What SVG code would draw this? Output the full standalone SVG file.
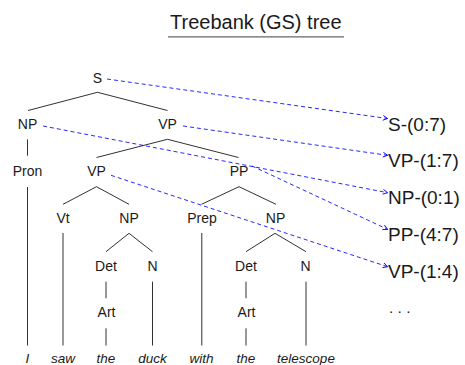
<svg xmlns="http://www.w3.org/2000/svg" width="465" height="365" viewBox="0 0 465 365">
<defs>
<style>
text{font-family:"Liberation Sans",Arial,sans-serif;fill:#1a1a1a}
.t{font-size:20px}
.n{font-size:14px;text-anchor:middle}
.w{font-size:13.5px;text-anchor:middle;font-style:italic}
.r{font-size:19px}
.d{font-size:15.5px}
.e{stroke:#1a1a1a;stroke-width:0.9;fill:none}
.a{stroke:#0000ff;stroke-width:0.85;fill:none;stroke-dasharray:4 3;marker-end:url(#ah)}
</style>
<marker id="ah" viewBox="0 0 6 6" refX="5.5" refY="3" markerWidth="6" markerHeight="6" markerUnits="userSpaceOnUse" orient="auto">
<path d="M1,0.6 L5.5,3 L1,5.4" fill="none" stroke="#0000ff" stroke-width="0.9"/>
</marker>
</defs>
<g id="title">
<text class="t" x="170" y="28.5">Treebank (GS) tree</text>
<line x1="168" y1="36.8" x2="344" y2="36.8" stroke="#666" stroke-width="1.3"/>
</g>
<g id="connectors">
<polyline class="e" points="28,110.5 97.5,92.3 167.5,110.5"/>
<polyline class="e" points="96.5,157.5 167.5,139.3 238.5,157.5"/>
<line class="e" x1="27.5" y1="139.3" x2="27.5" y2="155.7"/>
<line class="e" x1="27.5" y1="187" x2="27.5" y2="345.5"/>
<polyline class="e" points="63,204.3 96.5,186.7 129,204.3"/>
<polyline class="e" points="201.5,204.3 239,186.7 276,204.3"/>
<line class="e" x1="63" y1="233" x2="63" y2="345.5"/>
<line class="e" x1="201.8" y1="233" x2="201.8" y2="345.5"/>
<polyline class="e" points="106,251.7 129,233.3 152.5,251.7"/>
<polyline class="e" points="246,251.7 275,233.3 306,251.7"/>
<line class="e" x1="106" y1="281.7" x2="106" y2="298.3"/>
<line class="e" x1="106" y1="328.3" x2="106" y2="345.5"/>
<line class="e" x1="152.5" y1="281.7" x2="152.5" y2="345.5"/>
<line class="e" x1="246" y1="281.7" x2="246" y2="298.3"/>
<line class="e" x1="246" y1="328.3" x2="246" y2="345.5"/>
<line class="e" x1="306" y1="281.7" x2="306" y2="345.5"/>
<line class="a" x1="107" y1="79" x2="387.5" y2="118.5"/>
<line class="a" x1="183" y1="126" x2="387.5" y2="155.3"/>
<line class="a" x1="43" y1="126" x2="387.5" y2="192.7"/>
<line class="a" x1="252" y1="166" x2="387.5" y2="229.3"/>
<line class="a" x1="111" y1="175.3" x2="387.5" y2="266.7"/>
</g>
<g id="n-S"><text class="n" x="97.5" y="83">S</text></g>
<g id="n-NP1"><text class="n" x="27.5" y="129">NP</text></g>
<g id="n-VP1"><text class="n" x="167.5" y="129">VP</text></g>
<g id="n-Pron"><text class="n" x="27.5" y="176">Pron</text></g>
<g id="n-VP2"><text class="n" x="96.5" y="176">VP</text></g>
<g id="n-PP"><text class="n" x="239" y="176">PP</text></g>
<g id="n-Vt"><text class="n" x="63" y="223">Vt</text></g>
<g id="n-NP2"><text class="n" x="129" y="223">NP</text></g>
<g id="n-Prep"><text class="n" x="202" y="223">Prep</text></g>
<g id="n-NP3"><text class="n" x="275.5" y="223">NP</text></g>
<g id="n-Det1"><text class="n" x="106" y="271">Det</text></g>
<g id="n-N1"><text class="n" x="152.5" y="271">N</text></g>
<g id="n-Det2"><text class="n" x="246" y="271">Det</text></g>
<g id="n-N2"><text class="n" x="305.5" y="271">N</text></g>
<g id="n-Art1"><text class="n" x="106.5" y="317">Art</text></g>
<g id="n-Art2"><text class="n" x="246.5" y="317">Art</text></g>
<g id="w-I"><text class="w" x="27.5" y="363">I</text></g>
<g id="w-saw"><text class="w" x="63" y="363">saw</text></g>
<g id="w-the1"><text class="w" x="106" y="363">the</text></g>
<g id="w-duck"><text class="w" x="152.5" y="363">duck</text></g>
<g id="w-with"><text class="w" x="201.5" y="363">with</text></g>
<g id="w-the2"><text class="w" x="246" y="363">the</text></g>
<g id="w-telescope"><text class="w" x="306" y="363">telescope</text></g>
<g id="r-S"><text class="r" x="388" y="131">S-(0:7)</text></g>
<g id="r-VP17"><text class="r" x="388" y="167">VP-(1:7)</text></g>
<g id="r-NP"><text class="r" x="388" y="204">NP-(0:1)</text></g>
<g id="r-PP"><text class="r" x="388" y="241">PP-(4:7)</text></g>
<g id="r-VP14"><text class="r" x="388" y="278">VP-(1:4)</text></g>
<g id="r-dots"><text class="d" x="389" y="313">. . .</text></g>
</svg>
